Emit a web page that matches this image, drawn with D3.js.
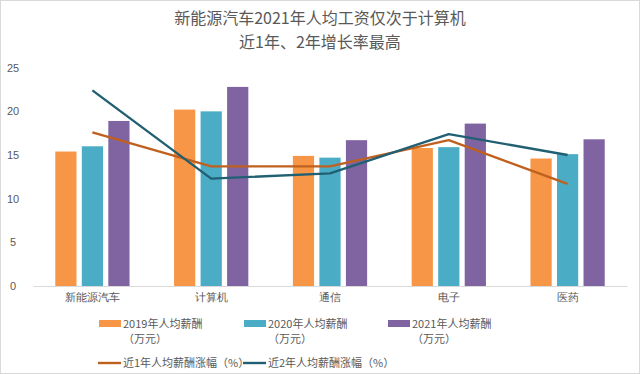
<!DOCTYPE html>
<html lang="zh">
<head>
<meta charset="UTF-8">
<title>新能源汽车2021年人均工资</title>
<script src="https://d3js.org/d3.v7.min.js"></script>
<style>
    body, html { margin: 0; padding: 0; background: #fff; }
    svg { display: block; font-family: "Noto Sans CJK SC", "Noto Sans", sans-serif; }
    .tick text { fill: #595959; font-size: 11px; }
</style>
</head>
<body>
<svg id="chart" width="640" height="374"></svg>
<script>
    // categories and series
    const categories = ["新能源汽车", "计算机", "通信", "电子", "医药"];
    const pay2019 = [15.4, 20.2, 14.9, 15.8, 14.6];
    const pay2020 = [16.0, 20.0, 14.7, 15.9, 15.1];
    const pay2021 = [18.9, 22.8, 16.7, 18.6, 16.8];
    const growth1y = [17.6, 13.7, 13.7, 16.7, 11.7];
    const growth2y = [22.4, 12.3, 12.9, 17.4, 15.0];
    const yTicks = [0, 5, 10, 15, 20, 25];

    const barSeries = [
        { name: "2019年人均薪酬", values: pay2019, color: "#F79646" },
        { name: "2020年人均薪酬", values: pay2020, color: "#4BACC6" },
        { name: "2021年人均薪酬", values: pay2021, color: "#8064A2" }
    ];
    const lineSeries = [
        { name: "近1年人均薪酬涨幅（%）", values: growth1y, color: "#C0601E" },
        { name: "近2年人均薪酬涨幅（%）", values: growth2y, color: "#215F73" }
    ];

    const svg = d3.select("#chart");
    const W = 640, H = 374;

    // outer border
    svg.append("rect")
        .attr("x", 0.5).attr("y", 0.5)
        .attr("width", W - 1).attr("height", H - 1)
        .attr("fill", "#fff").attr("stroke", "#d9d9d9");

    // title
    const title = svg.append("text")
        .attr("text-anchor", "middle")
        .attr("fill", "#595959")
        .attr("font-size", 16);
    title.append("tspan").attr("x", W / 2).attr("y", 24).text("新能源汽车2021年人均工资仅次于计算机");
    title.append("tspan").attr("x", W / 2).attr("y", 48).text("近1年、2年增长率最高");

    const plot = { left: 33, right: 627, top: 67.7, bottom: 286 };

    const x = d3.scaleBand()
        .domain(categories)
        .range([plot.left, plot.right]);

    const y = d3.scaleLinear()
        .domain([0, 25])
        .range([plot.bottom, plot.top]);

    const inner = d3.scaleBand()
        .domain(barSeries.map(s => s.name))
        .range([0, x.bandwidth() * 0.625])
        .paddingInner(0.2);
    const groupOffset = (x.bandwidth() - x.bandwidth() * 0.625) / 2;

    // y axis labels
    const yAxis = svg.append("g")
        .attr("transform", `translate(${plot.left - 20},0)`)
        .call(d3.axisLeft(y).tickValues(yTicks).tickSize(0).tickPadding(0));
    yAxis.select(".domain").remove();
    yAxis.selectAll("text").attr("text-anchor", "middle").attr("dx", 0);

    // bars
    barSeries.forEach(s => {
        svg.append("g")
            .selectAll("rect")
            .data(s.values)
            .join("rect")
            .attr("x", (d, i) => x(categories[i]) + groupOffset + inner(s.name))
            .attr("y", d => y(d))
            .attr("width", inner.bandwidth())
            .attr("height", d => y(0) - y(d))
            .attr("fill", s.color);
    });

    // x axis
    const xAxis = svg.append("g")
        .attr("transform", `translate(0,${plot.bottom})`)
        .call(d3.axisBottom(x).tickSize(0).tickPadding(7));
    xAxis.select(".domain").attr("stroke", "#d9d9d9");

    // lines
    const line = d3.line()
        .x((d, i) => x(categories[i]) + x.bandwidth() / 2)
        .y(d => y(d));
    lineSeries.forEach(s => {
        svg.append("path")
            .datum(s.values)
            .attr("d", line)
            .attr("fill", "none")
            .attr("stroke", s.color)
            .attr("stroke-width", 2.4)
            .attr("stroke-linejoin", "round");
    });

    // legend
    const legend = svg.append("g").attr("font-size", 11).attr("fill", "#595959");
    const barLegendX = [99, 244, 388];
    barSeries.forEach((s, i) => {
        const g = legend.append("g").attr("transform", `translate(${barLegendX[i]},0)`);
        g.append("rect").attr("x", 0).attr("y", 320).attr("width", 22).attr("height", 7).attr("fill", s.color);
        g.append("text").attr("x", 24).attr("y", 328).text(s.name);
        g.append("text").attr("x", 24).attr("y", 343).text("（万元）");
    });
    const lineLegendX = [98, 243];
    lineSeries.forEach((s, i) => {
        const g = legend.append("g").attr("transform", `translate(${lineLegendX[i]},0)`);
        g.append("line").attr("x1", 0).attr("x2", 23).attr("y1", 363).attr("y2", 363)
            .attr("stroke", s.color).attr("stroke-width", 2.4);
        g.append("text").attr("x", 25).attr("y", 367).text(s.name);
    });
</script>
</body>
</html>
